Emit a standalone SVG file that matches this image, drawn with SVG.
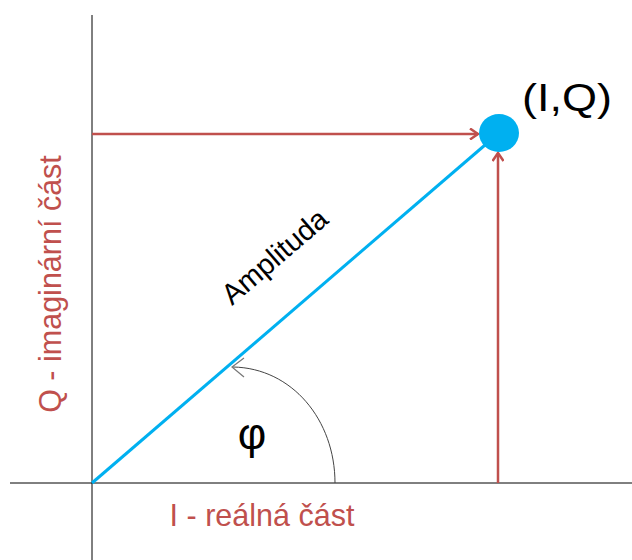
<svg xmlns="http://www.w3.org/2000/svg" width="632" height="560" viewBox="0 0 632 560">
<style>
.axis{stroke:#000;stroke-width:1;fill:none}
.red{stroke:#C0504D;stroke-width:2.5;fill:none}
.lbl{font-family:"Liberation Sans",Arial,sans-serif}
.redt{fill:#C0504D}
</style>
<defs>
<marker id="ar" markerWidth="12" markerHeight="12" refX="9" refY="6" orient="auto" markerUnits="userSpaceOnUse">
<path d="M1,0.5 L9,6 L1,11.5" fill="none" stroke="#C0504D" stroke-width="2.5"/>
</marker>
</defs>
<rect width="632" height="560" fill="#fff"/>
<g id="connectors">
<line class="axis" x1="92" y1="15" x2="92" y2="560"/>
<line class="axis" x1="10" y1="483" x2="632" y2="483"/>
<line x1="92" y1="483" x2="492" y2="139" stroke="#00B0F0" stroke-width="3"/>
<line class="red" x1="92" y1="134" x2="478" y2="134" marker-end="url(#ar)"/>
<line class="red" x1="498" y1="483" x2="498" y2="153" marker-end="url(#ar)"/>
<path d="M335,483 C335,420 292,368 233,367" fill="none" stroke="#444" stroke-width="1"/>
<path d="M244,358 L232,367 L244,377" fill="none" stroke="#777" stroke-width="1.2"/>
</g>
<g id="point">
<ellipse cx="499" cy="133" rx="20" ry="19" fill="#00B0F0"/>
<text class="lbl" x="522" y="111" font-size="38" textLength="90" lengthAdjust="spacingAndGlyphs">(I,Q)</text>
</g>
<g id="amplitude">
<text class="lbl" x="0" y="0" font-size="29" text-anchor="middle" transform="translate(281,264) rotate(-40.7)">Amplituda</text>
</g>
<g id="phi">
<text class="lbl" x="252" y="449" font-size="44" text-anchor="middle">φ</text>
</g>
<g id="qlabel">
<text class="lbl redt" x="0" y="0" font-size="30.5" text-anchor="middle" transform="translate(61,284) rotate(-90)">Q - imaginární část</text>
</g>
<g id="ilabel">
<text class="lbl redt" x="262" y="526" font-size="30.5" text-anchor="middle">I - reálná část</text>
</g>
</svg>
